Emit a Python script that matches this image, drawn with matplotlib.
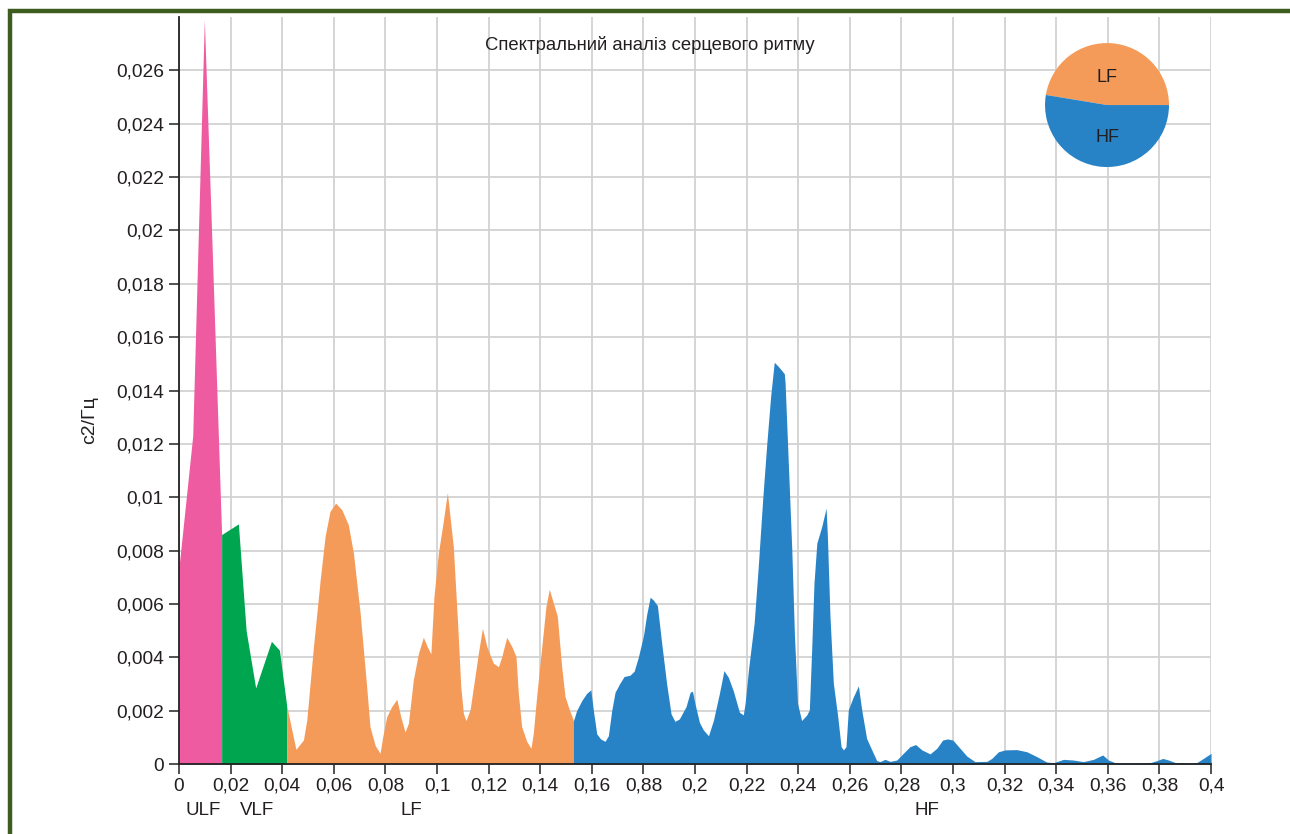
import matplotlib
matplotlib.use("Agg")
import matplotlib.pyplot as plt
from matplotlib.patches import Rectangle

plt.rcParams['font.family'] = ['Liberation Sans', 'DejaVu Sans']

# --- data ---
ulf_freq = [0.0, 0.0053, 0.0098, 0.0127, 0.0165]
ulf_power = [0.0074, 0.0123, 0.0279, 0.0197, 0.0086]

vlf_freq = [0.0165, 0.0230, 0.0260, 0.0297, 0.0358, 0.0389, 0.0417]
vlf_power = [0.0086, 0.0090, 0.0050, 0.00285, 0.0046, 0.00427, 0.0022]

lf_freq = [0.0417, 0.0453, 0.0482, 0.0495, 0.0521, 0.0547, 0.0566, 0.0585, 0.0607,
           0.0631, 0.0656, 0.0676, 0.0702, 0.0725, 0.0740, 0.0760, 0.0779, 0.0789,
           0.0805, 0.0824, 0.0844, 0.0859, 0.0876, 0.0889, 0.0908, 0.0928, 0.0947,
           0.0962, 0.0976, 0.0988, 0.1005, 0.1025, 0.1040, 0.1063, 0.1079, 0.1092,
           0.1102, 0.1112, 0.1128, 0.1147, 0.1160, 0.1176, 0.1193, 0.1218, 0.1238,
           0.1251, 0.1270, 0.1290, 0.1306, 0.1315, 0.1328, 0.1348, 0.1364, 0.1373,
           0.1386, 0.1406, 0.1422, 0.1435, 0.1451, 0.1466, 0.1483, 0.1496, 0.1513,
           0.1528]
lf_power = [0.0022, 0.00055, 0.0009, 0.00165, 0.0044, 0.0069, 0.00853, 0.00947, 0.00978,
            0.00953, 0.00897, 0.0079, 0.00565, 0.00315, 0.0014, 0.0007, 0.0004, 0.0010,
            0.00178, 0.00215, 0.00243, 0.00178, 0.0012, 0.00153, 0.00315, 0.00415, 0.00475,
            0.0044, 0.00413, 0.00628, 0.0079, 0.00915, 0.01018, 0.00815, 0.0054, 0.0029,
            0.0019, 0.00163, 0.00203, 0.00328, 0.00415, 0.00509, 0.0044, 0.00378, 0.00365,
            0.00403, 0.00475, 0.0044, 0.00403, 0.00265, 0.0014, 0.00084, 0.00059, 0.00115,
            0.00253, 0.0044, 0.0059, 0.00655, 0.00603, 0.00555, 0.00365, 0.00253, 0.00203,
            0.00165]

hf_freq = [0.1528, 0.1541, 0.1561, 0.1580, 0.1596, 0.1606, 0.1619, 0.1634, 0.1651,
           0.1664, 0.1677, 0.1690, 0.1707, 0.1725, 0.1748, 0.1764, 0.1780, 0.1800,
           0.1813, 0.1826, 0.1838, 0.1854, 0.1871, 0.1890, 0.1907, 0.1922, 0.1939,
           0.1965, 0.1981, 0.1990, 0.2000, 0.2017, 0.2032, 0.2052, 0.2071, 0.2094,
           0.2112, 0.2129, 0.2148, 0.2172, 0.2187, 0.2194, 0.2207, 0.2229, 0.2245,
           0.2262, 0.2278, 0.2293, 0.2307, 0.2323, 0.2346, 0.2349, 0.2362, 0.2375,
           0.2385, 0.2397, 0.2413, 0.2433, 0.2443, 0.2452, 0.2461, 0.2472, 0.2491,
           0.2508, 0.2513, 0.2523, 0.2536, 0.2553, 0.2566, 0.2575, 0.2585, 0.2594,
           0.2611, 0.2633, 0.2646, 0.2665, 0.2685, 0.2704, 0.2717, 0.2736, 0.2756,
           0.2782, 0.2807, 0.2833, 0.2855, 0.2879, 0.2911, 0.2937, 0.2960, 0.2978,
           0.2999, 0.3027, 0.3053, 0.3085, 0.3131, 0.3150, 0.3176, 0.3202, 0.3247,
           0.3286, 0.3324, 0.3363, 0.3389, 0.3428, 0.3466, 0.3505, 0.3544, 0.3580,
           0.3602, 0.3628, 0.3673, 0.3764, 0.3789, 0.3813, 0.3835, 0.3860, 0.3906,
           0.3944, 0.3970, 0.4000]
hf_power = [0.0016, 0.0020, 0.00238, 0.00265, 0.00278, 0.0020, 0.00113, 0.00094, 0.00085,
            0.00106, 0.0020, 0.00269, 0.0030, 0.00328, 0.00333, 0.00348, 0.0040, 0.00481,
            0.00563, 0.00625, 0.00615, 0.00594, 0.0045, 0.0030, 0.00188, 0.0016, 0.00169,
            0.00215, 0.00269, 0.00273, 0.00225, 0.00156, 0.00128, 0.00106, 0.00163, 0.00263,
            0.0035, 0.00325, 0.00275, 0.00194, 0.00184, 0.00228, 0.00353, 0.00528, 0.0074,
            0.0099, 0.0120, 0.01378, 0.01506, 0.0149, 0.01463, 0.01428, 0.01116, 0.00803,
            0.0049, 0.00228, 0.00163, 0.00184, 0.00203, 0.00428, 0.00678, 0.00828, 0.0089,
            0.00959, 0.00853, 0.00553, 0.00303, 0.00178, 0.00065, 0.00053, 0.00065, 0.00203,
            0.00246, 0.00293, 0.00203, 0.00096, 0.00053, 0.00013, 0.00009, 0.000175, 0.0001,
            0.00015, 0.0004, 0.00065, 0.00073, 0.00053, 0.00038, 0.00059, 0.0009, 0.00094,
            0.0009, 0.00059, 0.0003, 0.00009, 0.0001, 0.00021, 0.00046, 0.00053, 0.00054,
            0.00046, 0.00028, 0.000075, 0.00005, 0.000175, 0.00015, 0.00009, 0.000175, 0.00034,
            0.00015, 0.00005, 0.000025, 0.00005, 0.000125, 0.00021, 0.00015, 0.00006, 0.00004,
            0.00005, 0.00021, 0.0004]

x_ticks = [0.0, 0.02, 0.04, 0.06, 0.08, 0.10, 0.12, 0.14, 0.16, 0.18, 0.20,
           0.22, 0.24, 0.26, 0.28, 0.30, 0.32, 0.34, 0.36, 0.38, 0.40]
x_tick_labels = ["0", "0,02", "0,04", "0,06", "0,08", "0,1", "0,12", "0,14", "0,16",
                 "0,88", "0,2", "0,22", "0,24", "0,26", "0,28", "0,3", "0,32", "0,34",
                 "0,36", "0,38", "0,4"]
y_ticks = [0.0, 0.002, 0.004, 0.006, 0.008, 0.010, 0.012, 0.014, 0.016, 0.018,
           0.020, 0.022, 0.024, 0.026]
y_tick_labels = ["0", "0,002", "0,004", "0,006", "0,008", "0,01", "0,012", "0,014",
                 "0,016", "0,018", "0,02", "0,022", "0,024", "0,026"]

band_names = ["ULF", "VLF", "LF", "HF"]
band_label_x = [0.0093, 0.0302, 0.0899, 0.2899]

pie_labels = ["LF", "HF"]
pie_shares = [47.4, 52.6]

pink = '#ee5ba0'
green = '#00a54f'
orange = '#f59b59'
blue = '#2883c6'
text_col = '#231f20'

fig = plt.figure(figsize=(12.9, 8.34), dpi=100)
ax = fig.add_axes([0.1388, 0.0839, 0.8, 0.8957])

ax.fill_between(ulf_freq, ulf_power, 0, color=pink, linewidth=0, zorder=2)
ax.fill_between(vlf_freq, vlf_power, 0, color=green, linewidth=0, zorder=2)
ax.fill_between(lf_freq, lf_power, 0, color=orange, linewidth=0, zorder=2)
ax.fill_between(hf_freq, hf_power, 0, color=blue, linewidth=0, zorder=2)

ax.set_xlim(0, 0.4)
ax.set_ylim(0, 0.028)
ax.set_xticks(x_ticks)
ax.set_xticklabels(x_tick_labels)
ax.set_yticks(y_ticks)
ax.set_yticklabels(y_tick_labels)
ax.tick_params(axis='both', direction='out', length=7, width=1.2, color='#333333',
               labelsize=13.8, labelcolor=text_col)
ax.tick_params(axis='y', pad=4)
ax.tick_params(axis='x', pad=3)
ax.grid(True, color='#d2d2d2', linewidth=1.3, zorder=0)
ax.set_axisbelow(True)
for side in ['top', 'right']:
    ax.spines[side].set_visible(False)
for side in ['left', 'bottom']:
    ax.spines[side].set_linewidth(1.3)
    ax.spines[side].set_color('#222222')
    ax.spines[side].set_zorder(3)

ax.set_ylabel("с2/Гц", fontsize=14, color=text_col, va='center')
ax.yaxis.set_label_coords(-0.0862, 0.4605)

ax.text(0.456, 0.9625, "Спектральний аналіз серцевого ритму", transform=ax.transAxes,
        ha='center', va='center', fontsize=13.3, color=text_col)

for name, bx in zip(band_names, band_label_x):
    ax.text(bx, -0.0622, name, transform=ax.get_xaxis_transform(), ha='center',
            va='center', fontsize=13.5, color=text_col)

# inset pie
pax = fig.add_axes([0.8581 - 0.048, 0.8741 - 0.0744, 0.0961, 0.1487])
pax.pie(pie_shares, colors=[orange, blue], startangle=0, counterclock=True,
        wedgeprops=dict(linewidth=0))
pax.set_xlim(-1.0, 1.0)
pax.set_ylim(-1.0, 1.0)
pax.set_aspect('equal')
pax.text(0, 0.45, pie_labels[0], ha='center', va='center', fontsize=13, color=text_col)
pax.text(0, -0.52, pie_labels[1], ha='center', va='center', fontsize=13, color=text_col)

# outer frame
frame = Rectangle((10 / 1290, -0.05), 1.1, (823 / 834) + 0.05, transform=fig.transFigure,
                  fill=False, edgecolor='#3d5c1f', linewidth=3.2, clip_on=False)
fig.patches.append(frame)

fig.savefig("out.png", dpi=100)
